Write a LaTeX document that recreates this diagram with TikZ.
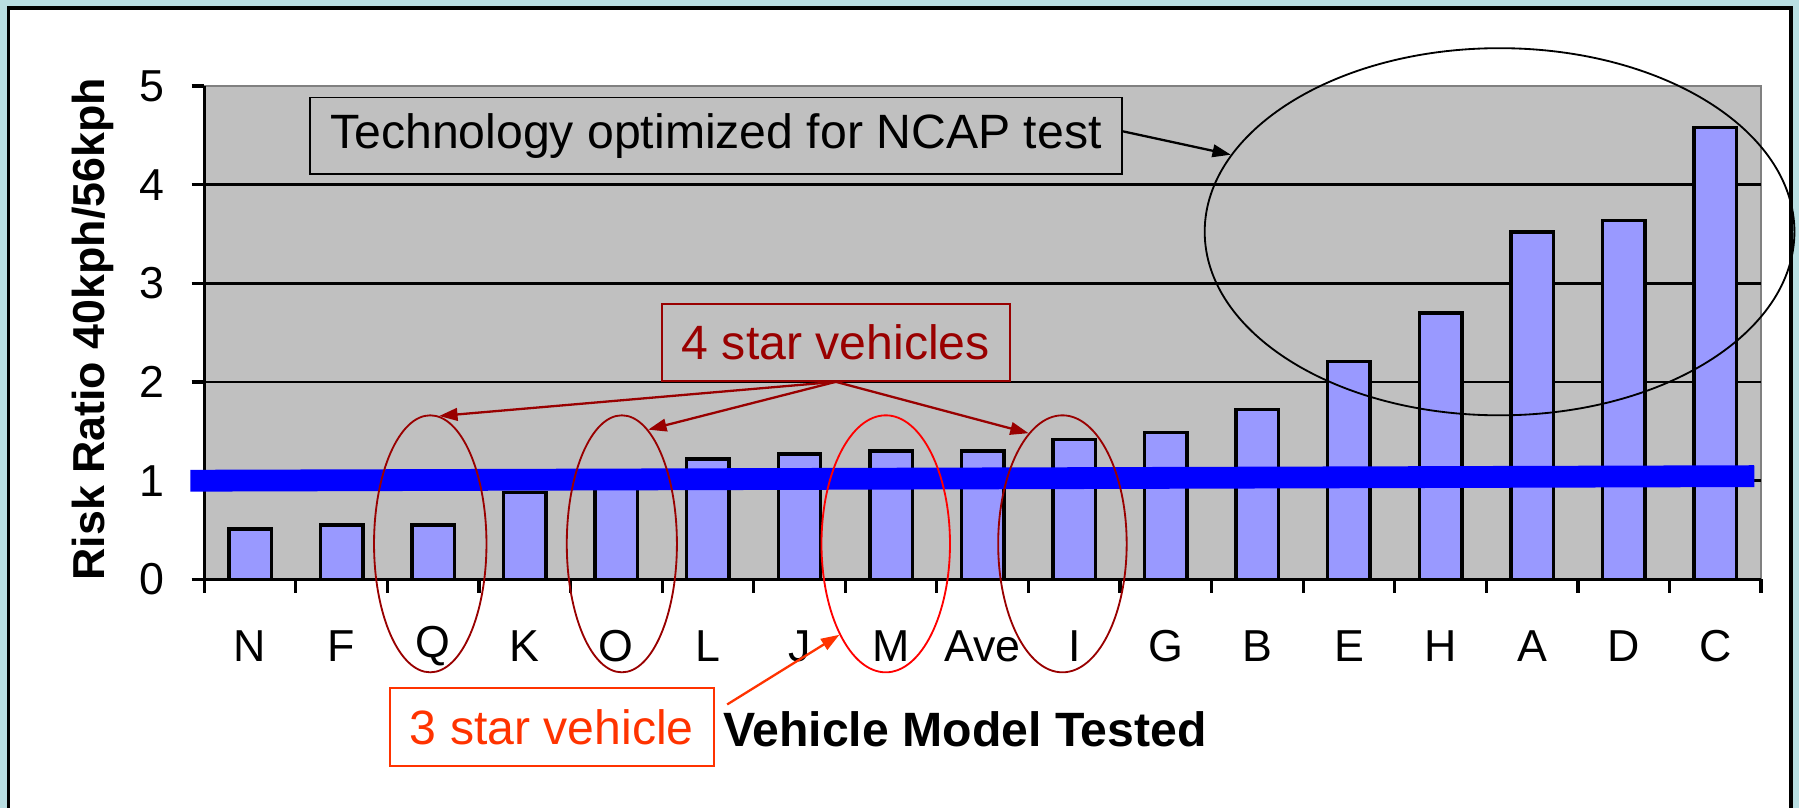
\documentclass[tikz,border=0pt]{standalone}
\usepackage{fontspec}
\setmainfont{Liberation Sans}
\usetikzlibrary{arrows.meta,calc,shapes.geometric}

\definecolor{pagebg}{RGB}{185,222,226}
\definecolor{plotgray}{RGB}{192,192,192}
\definecolor{plotedge}{RGB}{128,128,128}
\definecolor{barfill}{RGB}{153,153,255}
\definecolor{fourstar}{RGB}{153,0,0}
\definecolor{threestar}{RGB}{255,51,0}

\tikzset{
  bar/.style={fill=barfill,draw=black,line width=1.5pt},
  gridline/.style={draw=black,line width=1.1pt},
  axisline/.style={draw=black,line width=1.4pt},
  ticklabel/.style={inner sep=0pt,font=\fontsize{19.5}{22}\selectfont},
  axistitle/.style={inner sep=0pt,font=\bfseries\fontsize{19.5}{23}\selectfont},
  callout/.style={draw,line width=0.8pt,inner sep=0pt,font=\fontsize{21}{24}\selectfont},
  ring/.style={shape=ellipse,draw,line width=0.8pt,inner sep=0pt},
  pointer/.style={line width=1pt,-{Triangle[length=8pt,width=5.5pt]}},
}

\begin{document}
\begin{tikzpicture}[x=0.5pt,y=-0.5pt]
\useasboundingbox (0,0) rectangle (1568,704);

% page and white panel
\fill[pagebg] (0,0) rectangle (1568,704);
\draw[fill=white,line width=1.5pt] (7.5,7) rectangle (1561,730);

% plot area
\draw[fill=plotgray,draw=plotedge,line width=1pt] (178,75) rectangle (1535,505);
\foreach \v in {1,2,3,4}
  \draw[gridline] (178,505-86*\v) -- (1535,505-86*\v);

% bars and category labels
\foreach \lab/\val [count=\i] in {N/0.51,F/0.55,Q/0.55,K/0.88,O/1.02,L/1.22,J/1.27,M/1.30,Ave/1.30,I/1.42,G/1.49,B/1.72,E/2.21,H/2.70,A/3.52,D/3.64,C/4.58}{
  \pgfmathsetmacro\cx{178+79.82*(\i-0.5)}
  \pgfmathsetmacro\bartop{505-86*\val}
  \draw[bar] (\cx-18.5,505) rectangle (\cx+18.5,\bartop);
  \node[ticklabel] (cat-\lab) at (\cx,563) {\lab};
}

% axes and ticks
\draw[axisline] (178,75) -- (178,505) -- (1535,505);
\foreach \v in {0,...,5}{
  \draw[axisline] (167,505-86*\v) -- (178,505-86*\v);
  \node[ticklabel,anchor=east] (yl-\v) at (144,505-86*\v) {\v};
}
\foreach \k in {0,...,17}
  \draw[axisline] (178+79.82*\k,505) -- (178+79.82*\k,517);

% reference line at ratio 1
\coordinate (ref-l) at (166,419);
\coordinate (ref-r) at (1529,415);
\draw[blue,line width=9.5pt] (ref-l) -- (ref-r);

% axis titles
\node[axistitle,rotate=90] (ytitle) at (81,287) {Risk Ratio 40kph/56kph};
\node[axistitle,font=\bfseries\fontsize{21}{24}\selectfont] (xtitle) at (841,636) {Vehicle Model Tested};

% rings around selected models
\node[ring,minimum width=257pt,minimum height=160pt] (bigring) at (1307,202) {};
\node[ring,draw=fourstar,minimum width=49pt,minimum height=112pt] (qring) at (375,474) {};
\node[ring,draw=fourstar,minimum width=48pt,minimum height=112pt] (oring) at (542,474) {};
\node[ring,draw=red,minimum width=56pt,minimum height=112pt] (mring) at (772,474) {};
\node[ring,draw=fourstar,minimum width=56pt,minimum height=112pt] (iring) at (926,474) {};

% callouts
\node[callout,minimum width=354pt,minimum height=33.5pt] (tech) at (624,118.5) {Technology optimized for NCAP test};
\node[callout,draw=fourstar,text=fourstar,minimum width=151.5pt,minimum height=33.5pt] (four) at (728.5,298.5) {4 star vehicles};
\node[callout,draw=threestar,text=threestar,minimum width=141pt,minimum height=34pt] (three) at (481,634) {3 star vehicle};

% pointers
\draw[pointer] ([yshift=2pt]tech.east) -- (bigring.164);
\draw[pointer,fourstar] (four.south) -- (qring.86);
\draw[pointer,fourstar] (four.south) -- (oring.77);
\draw[pointer,fourstar] (four.south) -- (iring.107);
\draw[pointer,threestar] ([xshift=5.5pt,yshift=10pt]three.east) -- (mring.243);
\end{tikzpicture}
\end{document}
